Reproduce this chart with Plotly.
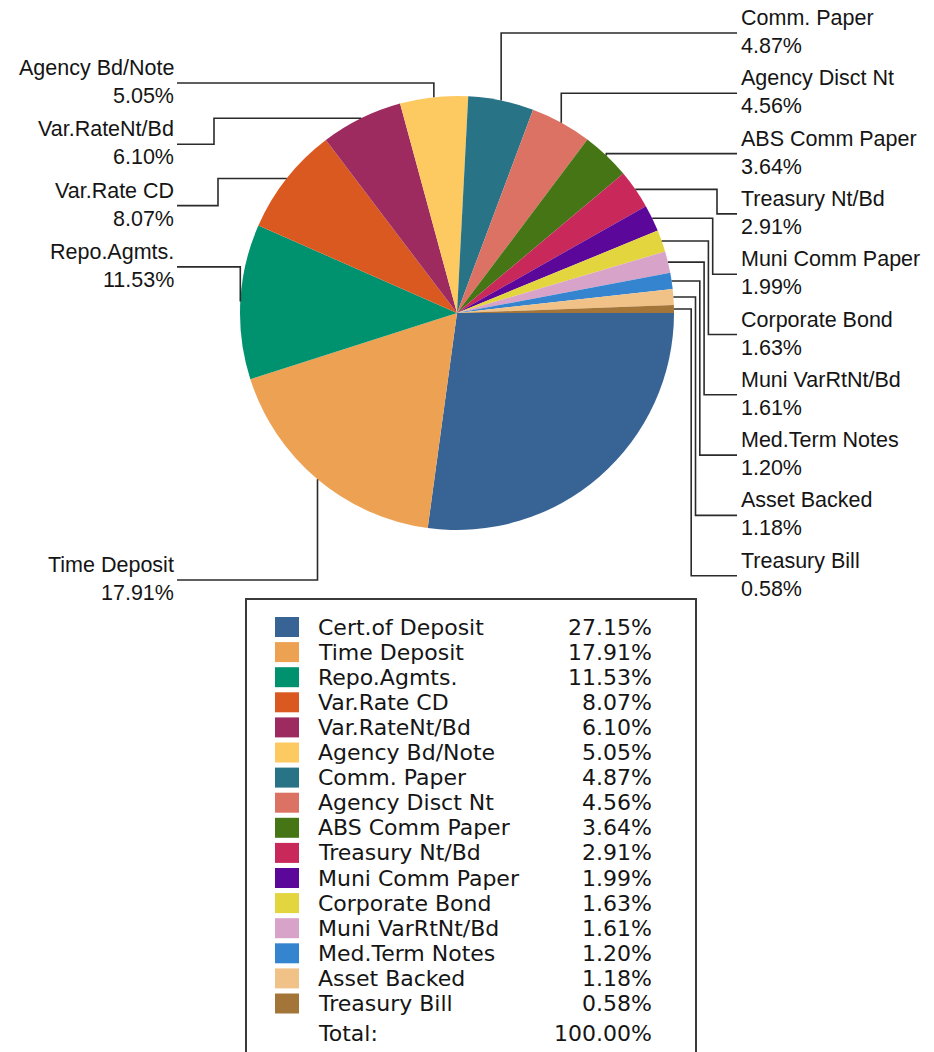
import math
import plotly.graph_objects as go

# ---------------- data ----------------
categories = [
    "Cert.of Deposit", "Time Deposit", "Repo.Agmts.", "Var.Rate CD",
    "Var.RateNt/Bd", "Agency Bd/Note", "Comm. Paper", "Agency Disct Nt",
    "ABS Comm Paper", "Treasury Nt/Bd", "Muni Comm Paper", "Corporate Bond",
    "Muni VarRtNt/Bd", "Med.Term Notes", "Asset Backed", "Treasury Bill",
]
percents = [27.15, 17.91, 11.53, 8.07, 6.10, 5.05, 4.87, 4.56,
            3.64, 2.91, 1.99, 1.63, 1.61, 1.20, 1.18, 0.58]
total_text = "100.00%"
colors = [
    "#386395", "#EDA153", "#00916F", "#DA5921", "#9D2B5F", "#FDCA61",
    "#287386", "#DB7263", "#467515", "#C8285A", "#5B079A", "#E3D53E",
    "#D8A3C8", "#3584D0", "#F1C287", "#A47538",
]

# ---------------- layout constants (pixels) ----------------
W, H = 934, 1052
CX, CY, R = 457, 313, 217
TEXT_COLOR = "#151515"
LINE_COLOR = "#2b2b2b"
LABEL_FONT = dict(family="Liberation Sans, Arial", size=21.5, color=TEXT_COLOR)
LEGEND_FONT = dict(family="DejaVu Sans", size=22, color=TEXT_COLOR)

RIGHT_TEXT_X, LEFT_TEXT_X = 739, 176
RIGHT_SLOT_TOP, RIGHT_SLOT_STEP = 33, 60.3
LEFT_SLOT_TOP, LEFT_SLOT_STEP = 83, 61.3
LEFT_SLOT_BOTTOM = 580
RIGHT_ELBOW_X, RIGHT_ELBOW_STEP = 717, -4.3
LEFT_ELBOW_X, LEFT_ELBOW_STEP = 214, 4.0

BOX = (246, 599, 696, 1062)
SQ_X0, SQ_W, SQ_H = 275, 24, 20
ROW_TOP, ROW_STEP = 617, 25.1
NAME_X, PCT_X = 316, 654


def fx(x):
    return x / W


def fy(y):
    return 1 - y / H


fig = go.Figure(go.Pie(
    labels=categories, values=percents, sort=False,
    direction="clockwise", rotation=90,
    marker=dict(colors=colors, line=dict(width=0)),
    textinfo="none", hoverinfo="label+percent", showlegend=False,
    domain=dict(x=[fx(CX - R), fx(CX + R)], y=[fy(CY + R), fy(CY - R)]),
))

shapes = []
annotations = []

# ---------------- callouts ----------------
total = sum(percents)
cum = 0.0
points = []
for i, v in enumerate(percents):
    mid = (cum + v / 2) / total
    cum += v
    th = 2 * math.pi * mid
    points.append((CX + R * math.cos(th), CY + R * math.sin(th), th))

callouts = list(range(1, len(categories)))  # largest slice unlabeled
right = [i for i in callouts if points[i][0] >= CX]
left = [i for i in callouts if points[i][0] < CX]
right.sort(key=lambda i: points[i][1])
left_up = sorted([i for i in left if points[i][1] <= CY], key=lambda i: points[i][1])
left_down = sorted([i for i in left if points[i][1] > CY], key=lambda i: -points[i][1])

slots = {}
for k, i in enumerate(right):
    slots[i] = ("right", RIGHT_SLOT_TOP + RIGHT_SLOT_STEP * k)
for k, i in enumerate(left_up):
    slots[i] = ("left", LEFT_SLOT_TOP + LEFT_SLOT_STEP * k)
for k, i in enumerate(left_down):
    slots[i] = ("left", LEFT_SLOT_BOTTOM - LEFT_SLOT_STEP * k)

elbow_count = {"right": 0, "left": 0}
for i in right + left_up + left_down:
    side, ly = slots[i]
    x, y, _ = points[i]
    tx = RIGHT_TEXT_X - 2 if side == "right" else LEFT_TEXT_X + 1
    away = (y <= CY and ly <= y + 3) or (y > CY and ly >= y - 3)
    if away:
        pts = [(x, y), (x, ly), (tx, ly)]
    else:
        k = elbow_count[side]
        elbow_count[side] += 1
        if side == "right":
            ex = RIGHT_ELBOW_X + RIGHT_ELBOW_STEP * k
        else:
            ex = LEFT_ELBOW_X + LEFT_ELBOW_STEP * k
        pts = [(x, y), (ex, y), (ex, ly), (tx, ly)]
    path = "M " + " L ".join(f"{fx(a):.5f},{fy(b):.5f}" for a, b in pts)
    shapes.append(dict(type="path", xref="paper", yref="paper", path=path,
                       line=dict(color=LINE_COLOR, width=1.6)))
    xa = "left" if side == "right" else "right"
    lx = RIGHT_TEXT_X if side == "right" else LEFT_TEXT_X
    annotations.append(dict(x=fx(lx), y=fy(ly - 15), xref="paper", yref="paper",
                            text=categories[i], showarrow=False, xanchor=xa,
                            yanchor="middle", font=LABEL_FONT))
    annotations.append(dict(x=fx(lx), y=fy(ly + 13), xref="paper", yref="paper",
                            text=f"{percents[i]:.2f}%", showarrow=False, xanchor=xa,
                            yanchor="middle", font=LABEL_FONT))

# ---------------- legend table ----------------
shapes.append(dict(type="rect", xref="paper", yref="paper",
                   x0=fx(BOX[0]), y0=fy(BOX[1]), x1=fx(BOX[2]), y1=fy(BOX[3]),
                   line=dict(color="#3a3a3a", width=2), fillcolor="rgba(0,0,0,0)"))
for i, name in enumerate(categories):
    top = ROW_TOP + ROW_STEP * i
    shapes.append(dict(type="rect", xref="paper", yref="paper",
                       x0=fx(SQ_X0), x1=fx(SQ_X0 + SQ_W), y0=fy(top), y1=fy(top + SQ_H),
                       line=dict(width=0), fillcolor=colors[i]))
    cy = top + SQ_H / 2
    annotations.append(dict(x=fx(NAME_X), y=fy(cy), xref="paper", yref="paper",
                            text=name, showarrow=False, xanchor="left",
                            yanchor="middle", font=LEGEND_FONT))
    annotations.append(dict(x=fx(PCT_X), y=fy(cy), xref="paper", yref="paper",
                            text=f"{percents[i]:.2f}%", showarrow=False, xanchor="right",
                            yanchor="middle", font=LEGEND_FONT))
total_y = ROW_TOP + ROW_STEP * len(categories) + SQ_H / 2 + 5
annotations.append(dict(x=fx(NAME_X), y=fy(total_y), xref="paper", yref="paper",
                        text="Total:", showarrow=False, xanchor="left",
                        yanchor="middle", font=LEGEND_FONT))
annotations.append(dict(x=fx(PCT_X), y=fy(total_y), xref="paper", yref="paper",
                        text=total_text, showarrow=False, xanchor="right",
                        yanchor="middle", font=LEGEND_FONT))

fig.update_layout(
    width=W, height=H, margin=dict(l=0, r=0, t=0, b=0),
    paper_bgcolor="white", plot_bgcolor="white",
    shapes=shapes, annotations=annotations, showlegend=False,
)
fig.write_html(
    "out.html",
    config={"displayModeBar": False},
    post_script="document.body.style.margin='0px';document.body.style.overflow='hidden';",
)
